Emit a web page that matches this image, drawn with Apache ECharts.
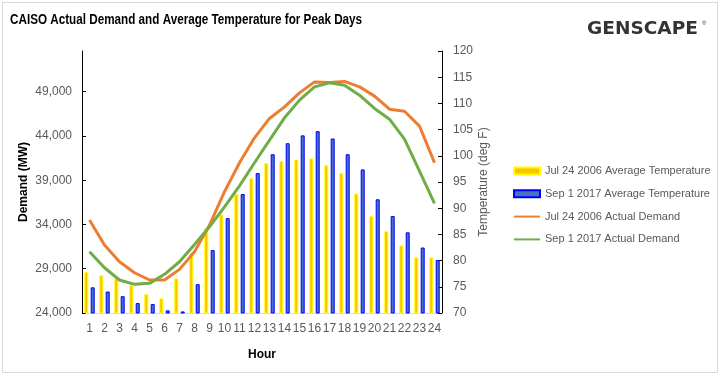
<!DOCTYPE html>
<html>
<head>
<meta charset="utf-8">
<script src="https://cdn.jsdelivr.net/npm/echarts@6/dist/echarts.min.js"></script>
<style>
  html, body { margin: 0; padding: 0; background: #fff; }
  #chart { width: 721px; height: 376px; }
</style>
</head>
<body>
<div id="chart"></div>
<script>
// hours on the x axis
var hours = ['1','2','3','4','5','6','7','8','9','10','11','12','13','14','15','16','17','18','19','20','21','22','23','24'];

// average temperature (deg F), right axis
var temp2006 = [77.8, 77.2, 76.6, 75.3, 73.6, 72.8, 76.6, 81.4, 86.2, 88.8, 92.7, 95.7, 98.6, 99.0, 99.3, 99.5, 98.2, 96.7, 92.8, 88.5, 85.6, 82.9, 80.6, 80.6];
var temp2017 = [74.9, 74.1, 73.2, 71.9, 71.7, 70.5, 70.3, 75.5, 82.0, 88.1, 92.7, 96.7, 100.3, 102.4, 103.9, 104.7, 103.3, 100.3, 97.4, 91.7, 88.5, 85.4, 82.5, 80.1];

// actual demand (MW), left axis
var demand2006 = [34500, 31680, 29790, 28550, 27730, 27730, 28930, 30920, 33940, 37700, 40970, 43790, 45980, 47290, 48870, 50110, 50040, 50160, 49550, 48500, 47030, 46800, 45110, 40970];
var demand2017 = [30920, 29110, 27730, 27240, 27350, 28370, 29790, 31750, 33740, 36000, 38370, 40970, 43530, 46050, 48050, 49550, 50000, 49740, 48610, 47110, 45900, 43640, 40030, 36380];

var font = '"Liberation Sans", Arial, sans-serif';
var grey = '#595959';

var chart = echarts.init(document.getElementById('chart'), null, { renderer: 'canvas' });

var option = {
  animation: false,
  backgroundColor: '#fff',
  textStyle: { fontFamily: font },
  grid: { left: 82, right: 279, top: 51, bottom: 63 },
  graphic: [
    { type: 'rect', shape: { x: 2.5, y: 2.5, width: 715, height: 370 },
      style: { fill: 'none', stroke: '#d9d9d9', lineWidth: 1 } },
    // title squeezed horizontally to mimic the narrow Calibri face
    { type: 'text', x: 10, y: 13, scaleX: 0.835,
      style: { text: 'CAISO Actual Demand and Average Temperature for Peak Days',
               font: 'bold 14px ' + font, fill: '#000' } },
    { type: 'text', x: 587, y: 20, scaleX: 1.03,
      style: { text: 'GENSCAPE', font: 'bold 18px "DejaVu Sans", sans-serif', fill: '#333' } },
    { type: 'text', x: 702, y: 20,
      style: { text: '®', font: '6px sans-serif', fill: '#333' } }
  ],
  legend: {
    orient: 'vertical',
    left: 513, top: 165.5, padding: 0,
    itemWidth: 26, itemHeight: 7, itemGap: 11.8,
    textStyle: { color: grey, fontSize: 11, fontFamily: font },
    data: [
      { name: 'Jul 24 2006 Average Temperature', icon: 'rect' },
      { name: 'Sep 1 2017 Average Temperature', icon: 'rect' },
      { name: 'Jul 24 2006 Actual Demand', itemStyle: { opacity: 0 } },
      { name: 'Sep 1 2017 Actual Demand', itemStyle: { opacity: 0 } }
    ]
  },
  xAxis: {
    type: 'category',
    data: hours,
    name: 'Hour',
    nameLocation: 'middle',
    nameGap: 36,
    nameTextStyle: { fontWeight: 'bold', fontSize: 12, color: '#000' },
    axisLine: { lineStyle: { color: '#d9d9d9' } },
    axisTick: { show: false },
    axisLabel: { color: grey, fontSize: 12, margin: 10, interval: 0 }
  },
  yAxis: [
    {
      type: 'value',
      min: 24000, max: 53600, interval: 5000,
      name: 'Demand (MW)',
      nameLocation: 'middle',
      nameGap: 52,
      nameTextStyle: { fontWeight: 'bold', fontSize: 12, color: '#000' },
      axisLine: { show: true, lineStyle: { color: '#000' } },
      axisTick: { show: true, inside: true, length: 4, lineStyle: { color: '#000' } },
      axisLabel: { color: grey, fontSize: 12, margin: 10, showMaxLabel: false,
        formatter: function (v) { return v.toLocaleString('en-US'); } },
      splitLine: { show: false }
    },
    {
      type: 'value',
      min: 70, max: 120, interval: 5,
      name: 'Temperature (deg F)',
      nameLocation: 'middle',
      nameGap: 36,
      nameTextStyle: { fontSize: 12, color: grey },
      axisLine: { show: true, lineStyle: { color: '#000' } },
      axisTick: { show: true, inside: true, length: 4, lineStyle: { color: '#000' } },
      axisLabel: { color: grey, fontSize: 12, margin: 11 },
      splitLine: { show: false }
    }
  ],
  series: [
    { name: 'Jul 24 2006 Average Temperature', type: 'bar', yAxisIndex: 1,
      data: temp2006, barWidth: 4, barGap: '60%',
      itemStyle: { color: '#FFC000', borderColor: '#FFFF00', borderWidth: 1 } },
    { name: 'Sep 1 2017 Average Temperature', type: 'bar', yAxisIndex: 1,
      data: temp2017, barWidth: 4, barGap: '60%',
      itemStyle: { color: '#4472C4', borderColor: '#0000FF', borderWidth: 1 } },
    { name: 'Jul 24 2006 Actual Demand', type: 'line', yAxisIndex: 0,
      data: demand2006, symbol: 'none',
      lineStyle: { color: '#ED7D31', width: 3 }, itemStyle: { color: '#ED7D31' } },
    { name: 'Sep 1 2017 Actual Demand', type: 'line', yAxisIndex: 0,
      data: demand2017, symbol: 'none',
      lineStyle: { color: '#70AD47', width: 3 }, itemStyle: { color: '#70AD47' } }
  ]
};

chart.setOption(option);
</script>
</body>
</html>
